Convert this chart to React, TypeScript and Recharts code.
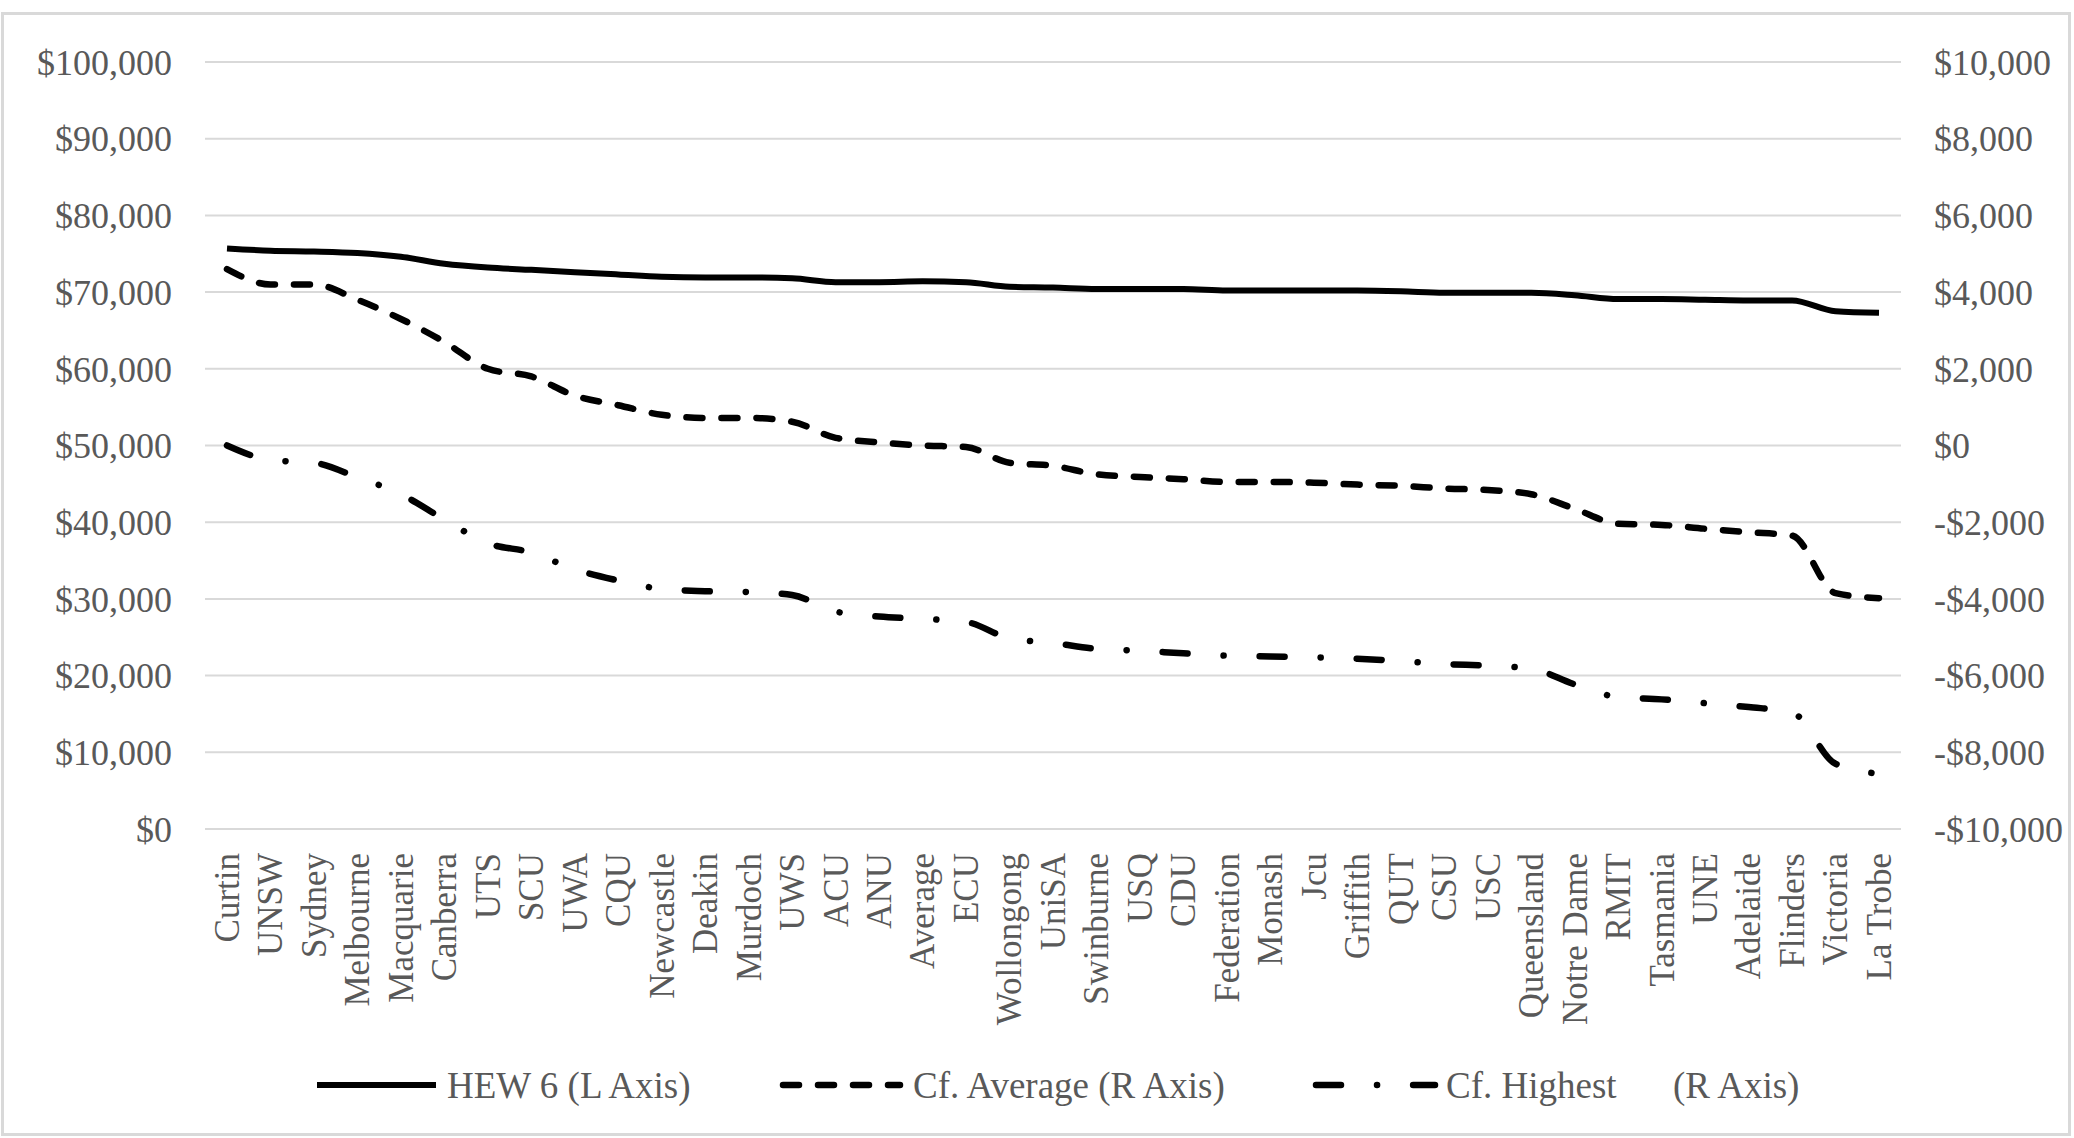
import { LineChart, Line, XAxis, YAxis, CartesianGrid, Legend } from 'recharts';

const universities = [
  'Curtin', 'UNSW', 'Sydney', 'Melbourne', 'Macquarie', 'Canberra', 'UTS', 'SCU', 'UWA', 'CQU',
  'Newcastle', 'Deakin', 'Murdoch', 'UWS', 'ACU', 'ANU', 'Average', 'ECU', 'Wollongong', 'UniSA',
  'Swinburne', 'USQ', 'CDU', 'Federation', 'Monash', 'Jcu', 'Griffith', 'QUT', 'CSU', 'USC',
  'Queensland', 'Notre Dame', 'RMIT', 'Tasmania', 'UNE', 'Adelaide', 'Flinders', 'Victoria', 'La Trobe',
];

// HEW 6 salary (left axis)
const hew6 = [
  75700, 75400, 75300, 75100, 74600, 73700, 73200, 72900, 72600, 72300,
  72000, 71900, 71900, 71800, 71300, 71300, 71400, 71300, 70700, 70600,
  70400, 70400, 70400, 70200, 70200, 70200, 70200, 70100, 69900, 69900,
  69900, 69600, 69100, 69100, 69000, 68900, 68900, 67500, 67300,
];

// difference to the average (right axis)
const cfAverage = [
  4600, 4200, 4200, 3800, 3300, 2700, 2000, 1800, 1300, 1050,
  800, 720, 720, 620, 200, 80, 0, -40, -450, -530,
  -750, -820, -880, -950, -950, -970, -1020, -1050, -1120, -1160,
  -1270, -1650, -2040, -2070, -2170, -2260, -2350, -3850, -3980,
];

// difference to the highest (right axis)
const cfHighest = [
  0, -380, -450, -830, -1270, -1930, -2550, -2790, -3230, -3520,
  -3740, -3800, -3820, -3900, -4330, -4460, -4520, -4600, -5030, -5150,
  -5300, -5350, -5420, -5480, -5500, -5520, -5560, -5620, -5700, -5740,
  -5820, -6230, -6560, -6620, -6720, -6820, -6960, -8300, -8560,
];

const leftTicks = [0, 10000, 20000, 30000, 40000, 50000, 60000, 70000, 80000, 90000, 100000];
const rightTicks = [-10000, -8000, -6000, -4000, -2000, 0, 2000, 4000, 6000, 8000, 10000];

const data = universities.map((name, i) => ({
  name,
  hew6: hew6[i],
  cfAverage: cfAverage[i],
  cfHighest: cfHighest[i],
}));

const FONT = '"Liberation Serif", "Times New Roman", serif';
const GREY = '#595959';
const DASH = '16 19';
const DASH_DOT = '25 36 0.1 36';

const money = (v: number) => (v < 0 ? '-$' : '$') + Math.abs(v).toLocaleString('en-US');

function CategoryTick({ x, y, payload }: any) {
  return (
    <text
      x={x}
      y={y}
      dy="0.34em"
      transform={`rotate(-90, ${x}, ${y})`}
      textAnchor="end"
      fill={GREY}
      fontSize={35}
      fontFamily={FONT}
    >
      {payload.value}
    </text>
  );
}

function ChartLegend() {
  const cy = 30;
  const textProps = { fill: GREY, fontSize: 37, fontFamily: FONT, dy: '0.34em' };
  return (
    <svg width={2074} height={60}>
      <line x1={317} x2={436} y1={cy} y2={cy} stroke="#000" strokeWidth={6} />
      <text x={447} y={cy} {...textProps}>HEW 6 (L Axis)</text>
      <line x1={783} x2={900} y1={cy} y2={cy} stroke="#000" strokeWidth={6.5} strokeDasharray={DASH} strokeLinecap="round" />
      <text x={913} y={cy} {...textProps}>Cf. Average (R Axis)</text>
      <line x1={1316} x2={1435} y1={cy} y2={cy} stroke="#000" strokeWidth={6.5} strokeDasharray={DASH_DOT} strokeLinecap="round" />
      <text x={1446} y={cy} {...textProps}>Cf. Highest</text>
      <text x={1673} y={cy} {...textProps}>(R Axis)</text>
    </svg>
  );
}

export default function App() {
  return (
    <div style={{ position: 'absolute', left: 0, top: 0, width: 2074, height: 1138, background: '#fff' }}>
      <div
        style={{
          position: 'absolute',
          left: 1,
          top: 12,
          width: 2070,
          height: 1124,
          border: '3px solid #d9d9d9',
          boxSizing: 'border-box',
        }}
      />
      <div style={{ position: 'absolute', left: 0, top: 0 }}>
        <LineChart width={2074} height={1138} data={data} margin={{ top: 62, right: 0, bottom: 0, left: 0 }}>
          <CartesianGrid yAxisId="left" vertical={false} stroke="#d9d9d9" strokeWidth={2} />
          <XAxis
            dataKey="name"
            interval={0}
            height={309}
            padding={{ left: 22, right: 22 }}
            axisLine={false}
            tickLine={false}
            tickSize={0}
            tickMargin={24}
            tick={<CategoryTick />}
          />
          <YAxis
            yAxisId="left"
            domain={[0, 100000]}
            ticks={leftTicks}
            width={205}
            axisLine={false}
            tickLine={false}
            tickSize={0}
            tickMargin={33}
            tickFormatter={money}
            tick={{ fill: GREY, fontSize: 36, fontFamily: FONT }}
          />
          <YAxis
            yAxisId="right"
            orientation="right"
            domain={[-10000, 10000]}
            ticks={rightTicks}
            width={173}
            axisLine={false}
            tickLine={false}
            tickSize={0}
            tickMargin={33}
            tickFormatter={money}
            tick={{ fill: GREY, fontSize: 36, fontFamily: FONT, textAnchor: 'start' }}
          />
          <Legend
            layout="horizontal"
            verticalAlign="middle"
            align="center"
            wrapperStyle={{ top: 1055, left: 0, width: 2074 }}
            content={<ChartLegend />}
          />
          <Line
            yAxisId="left"
            type="monotone"
            dataKey="hew6"
            name="HEW 6 (L Axis)"
            stroke="#000"
            strokeWidth={6}
            dot={false}
            activeDot={false}
            isAnimationActive={false}
          />
          <Line
            yAxisId="right"
            type="monotone"
            dataKey="cfAverage"
            name="Cf. Average (R Axis)"
            stroke="#000"
            strokeWidth={6.5}
            strokeDasharray={DASH}
            strokeLinecap="round"
            dot={false}
            activeDot={false}
            isAnimationActive={false}
          />
          <Line
            yAxisId="right"
            type="monotone"
            dataKey="cfHighest"
            name="Cf. Highest (R Axis)"
            stroke="#000"
            strokeWidth={6.5}
            strokeDasharray={DASH_DOT}
            strokeLinecap="round"
            dot={false}
            activeDot={false}
            isAnimationActive={false}
          />
        </LineChart>
      </div>
    </div>
  );
}
